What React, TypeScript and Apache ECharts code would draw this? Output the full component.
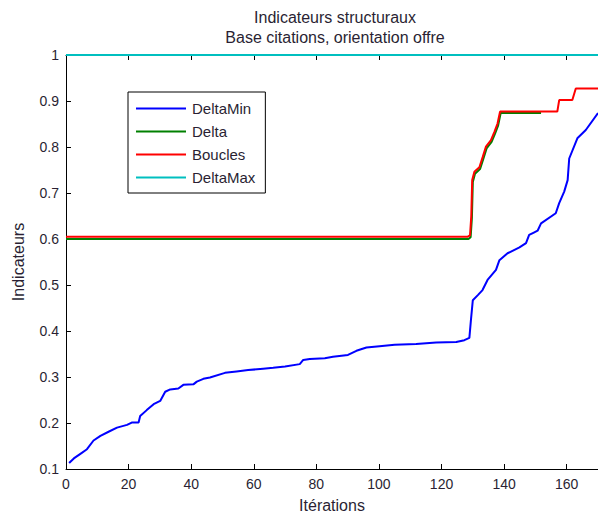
import React, { useEffect, useRef } from "react";
import * as echarts from "echarts";

const titleLines = ["Indicateurs structuraux", "Base citations, orientation offre"];
const xName = "Itérations";
const yName = "Indicateurs";
const seriesNames = ["DeltaMin", "Delta", "Boucles", "DeltaMax"];
const seriesColors = ["#0000ff", "#008000", "#ff0000", "#00bfbf"];

const deltaMin: [number, number][] = [
  [1, 0.113], [2.5, 0.123], [4.6, 0.133], [6.7, 0.143], [8.8, 0.162], [11, 0.172],
  [13.6, 0.181], [16.3, 0.19], [19.5, 0.196], [21, 0.201], [23.2, 0.201], [23.7, 0.215],
  [25.8, 0.228], [28, 0.241], [30.1, 0.248], [31.7, 0.268], [33.3, 0.273], [35.9, 0.275],
  [37.5, 0.283], [40.7, 0.284], [41.8, 0.29], [43.9, 0.296], [46, 0.299], [50.8, 0.309],
  [54.5, 0.312], [58.2, 0.315], [63, 0.318], [66.2, 0.32], [70, 0.323], [74.7, 0.328],
  [75.8, 0.337], [77.9, 0.339], [82.7, 0.341], [85.3, 0.344], [90.1, 0.348], [92.8, 0.357],
  [96, 0.364], [100.2, 0.367], [105, 0.37], [111.9, 0.372], [118.3, 0.375], [124.7, 0.376],
  [127.3, 0.38], [128.9, 0.385], [129.4, 0.424], [130, 0.467], [131.6, 0.478], [133.1, 0.489],
  [134.7, 0.511], [137.4, 0.533], [138.5, 0.554], [141.1, 0.569], [144.9, 0.582], [147, 0.591],
  [148, 0.609], [149.5, 0.614], [150.7, 0.618], [151.8, 0.634], [156.5, 0.656], [157.6, 0.678],
  [159.2, 0.703], [160.3, 0.728], [160.8, 0.775], [163.4, 0.819], [166.1, 0.837], [170, 0.874],
];

const delta: [number, number][] = [
  [0, 0.6], [128.6, 0.6], [129.3, 0.604], [129.7, 0.645], [130, 0.724], [130.7, 0.742],
  [132.3, 0.752], [133.4, 0.775], [134.4, 0.797], [136, 0.811], [137.1, 0.829], [138.1, 0.847],
  [138.9, 0.874], [151.8, 0.874],
];

const boucles: [number, number][] = [
  [0, 0.605], [128.4, 0.605], [129.1, 0.608], [129.5, 0.649], [129.8, 0.728], [130.5, 0.746],
  [132.1, 0.756], [133.2, 0.779], [134.2, 0.801], [135.8, 0.815], [136.9, 0.833], [137.9, 0.851],
  [138.7, 0.877], [157, 0.877], [157.6, 0.902], [161.8, 0.902], [162.9, 0.927], [170, 0.927],
];

const deltaMax: [number, number][] = [
  [0, 1], [170, 1],
];

const allData = [deltaMin, delta, boucles, deltaMax];

const FONT = "'Liberation Sans', Arial, sans-serif";
const TXT = "#2a1f33";

export default function App() {
  const ref = useRef<HTMLDivElement>(null);
  useEffect(() => {
    if (!ref.current) return;
    const chart = echarts.init(ref.current, null, { renderer: "svg" });
    chart.setOption({
      animation: false,
      backgroundColor: "#ffffff",
      title: {
        text: titleLines.join("\n"),
        left: 330,
        textAlign: "center",
        top: 2,
        textStyle: { fontFamily: FONT, fontSize: 16, fontWeight: "normal", color: TXT, lineHeight: 20 },
      },
      legend: {
        orient: "vertical",
        left: 128,
        top: 92,
        backgroundColor: "#ffffff",
        borderColor: "#000000",
        borderWidth: 1,
        borderRadius: 0,
        padding: [9, 10, 8, 8],
        itemWidth: 50,
        itemHeight: 2,
        itemGap: 8,
        icon: "rect",
        data: seriesNames,
        textStyle: { fontFamily: FONT, fontSize: 15, color: TXT, padding: [0, 0, 0, 1] },
      },
      grid: { left: 66, right: 0, top: 55, bottom: 46, containLabel: false, outerBoundsMode: "none" },
      xAxis: [
        {
          type: "value",
          min: 0,
          max: 170,
          interval: 20,
          name: xName,
          nameLocation: "middle",
          nameGap: 28,
          nameTextStyle: { fontFamily: FONT, fontSize: 16, color: TXT },
          axisLine: { show: true, lineStyle: { color: "#000", width: 1 } },
          axisTick: { show: true, inside: true, length: 5, lineStyle: { color: "#000" } },
          axisLabel: { fontFamily: FONT, fontSize: 14, color: TXT, margin: 8, showMaxLabel: false },
          splitLine: { show: false },
        },
        {
          type: "value",
          position: "top",
          min: 0,
          max: 170,
          interval: 20,
          axisLine: { show: true, lineStyle: { color: "#000", width: 1 } },
          axisTick: { show: true, inside: true, length: 5, lineStyle: { color: "#000" } },
          axisLabel: { show: false },
          splitLine: { show: false },
        },
      ],
      yAxis: {
        type: "value",
        min: 0.1,
        max: 1,
        interval: 0.1,
        name: yName,
        nameLocation: "middle",
        nameGap: 40,
        nameTextStyle: { fontFamily: FONT, fontSize: 16, color: TXT },
        axisLine: { show: true, lineStyle: { color: "#000", width: 1 } },
        axisTick: { show: true, inside: true, length: 5, lineStyle: { color: "#000" } },
        axisLabel: {
          fontFamily: FONT,
          fontSize: 14,
          color: TXT,
          margin: 7,
          formatter: (v: number) => String(Math.round(v * 10) / 10),
        },
        splitLine: { show: false },
      },
      series: seriesNames.map((name, i) => ({
        name,
        type: "line",
        data: allData[i],
        xAxisIndex: 0,
        symbol: "none",
        showSymbol: false,
        clip: false,
        color: seriesColors[i],
        lineStyle: { color: seriesColors[i], width: 2 },
        z: 2 + i,
      })),
    });
    return () => chart.dispose();
  }, []);
  return <div ref={ref} style={{ position: "fixed", left: 0, top: 0, width: 598, height: 515 }} />;
}
